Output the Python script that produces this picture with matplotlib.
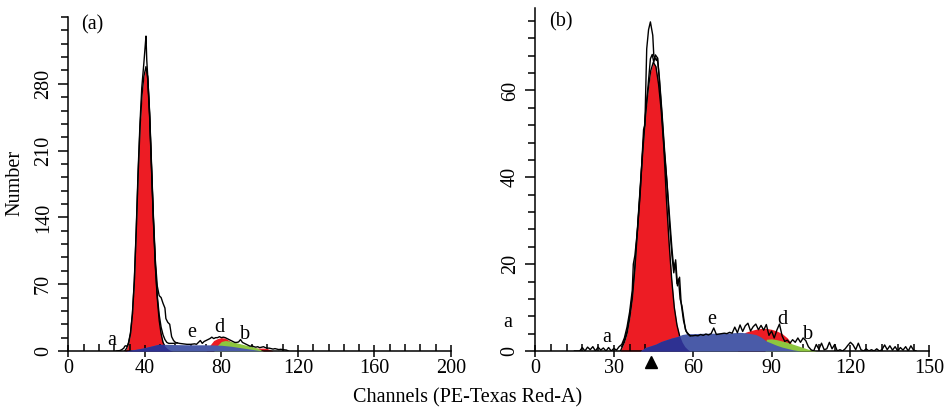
import numpy as np
import matplotlib
matplotlib.use("Agg")
import matplotlib.pyplot as plt
from matplotlib.ticker import MultipleLocator
import matplotlib.transforms as mtransforms

plt.rcParams['font.family'] = ['Liberation Serif', 'DejaVu Serif']
FS = 14.5

RED = '#ED1C24'
BLUE = '#4A5BA8'
NAVY = '#2E3192'
GREEN = '#8DC63F'

# ---------------- Panel (a) data ----------------
a_g1_x = [29.5, 30.5, 31.5, 32.5, 33.5, 34.5, 35.5, 36.5, 37.5, 38.5, 39.5, 40.6, 41.5, 42.5,
          43.5, 44.5, 45.5, 46.5, 47.5, 48.5, 49.5, 50.5, 51.5, 52.5, 53.5, 54.5]
a_g1_y = [0, 3, 8, 18, 38, 72, 125, 185, 235, 268, 288, 298, 285, 245,
          190, 135, 88, 55, 32, 18, 9, 5, 3, 1.5, 0.5, 0]

a_g2_x = [72, 74, 76, 78, 80, 82, 84, 86, 88, 90, 92, 94, 96, 98, 100, 102, 104, 106, 107]
a_g2_y = [0, 6, 11, 13, 14, 13.5, 11, 8, 6, 5, 4.5, 4, 3.5, 3, 3, 3, 2.5, 1, 0]

a_s_x = [30, 33, 36, 40, 44, 47, 50, 55, 60, 65, 70, 75, 80, 85, 90, 95, 100, 102]
a_s_y = [0, 1, 2, 3.5, 5.5, 7, 7, 6.8, 6.6, 6.5, 6.5, 6.4, 6, 5, 3.5, 2, 0.5, 0]

a_gr_x = [76, 78, 80, 82, 84, 86, 88, 90, 92, 94, 96, 98, 100, 101, 102]
a_gr_y = [0, 6, 10, 11, 10.5, 9.5, 8.5, 7.5, 6.5, 5.5, 4.5, 3.5, 2, 0.5, 0]

a_raw_x = [25, 27, 28, 29, 29.5, 30, 30.5, 31, 31.5, 32.5, 33.5, 34.5, 35.5, 36.5, 37.5, 38.4,
           39.5, 40.2, 40.6, 41, 41.5, 42.5, 43.5, 44.5, 45.5, 46.5, 47.5, 48.5, 49.5, 50.5,
           51, 52, 53, 54, 55, 56, 57, 58, 60, 62, 64, 66, 67, 68, 69, 70, 71, 72, 73, 74,
           75, 76, 77, 78, 79, 80, 81, 82, 83, 84, 85, 86, 87, 88, 89, 90, 91, 92, 93, 94,
           95, 96, 97, 98, 99, 100, 101, 102, 103, 104, 105, 106, 107, 108, 109, 110, 111,
           112, 113, 114, 115]
a_raw_y = [0, 0.5, 1.5, 3, 5, 5.5, 5, 6, 9, 19, 39, 74, 128, 190, 240, 276,
           302, 320, 330, 305, 288, 250, 195, 140, 95, 68, 58, 56, 50, 45,
           34, 30, 28, 15, 11, 9, 8.5, 8, 7.5, 7, 7, 7.5, 7, 9, 11, 8, 10, 11, 12, 13,
           14.5, 13, 14, 14, 15, 14, 14.5, 14, 13, 12, 11, 10, 9, 9, 9.5, 12, 9, 8, 7, 6,
           5, 5.5, 4.5, 4, 4.5, 3.5, 4, 4.5, 3.5, 3, 3, 2.5, 2, 2.5, 2, 1.5, 1.8,
           1.5, 1.2, 1, 0]

a_in_x = [41.5, 42.5, 43.5, 44.5, 45.5, 46.5, 47.5, 48.5, 49.5, 50.5, 51.5, 52.5, 53.5, 55, 57]
a_in_y = [288, 248, 192, 137, 90, 58, 38, 25, 17, 12, 9, 8, 8, 8, 8.5]

a_xticks = [0, 40, 80, 120, 160, 200]
a_yticks = [0, 70, 140, 210, 280]
a_labels = [('a', 22.7, 10.6), ('e', 64.5, 19.4), ('d', 79.0, 24.6), ('b', 92.4, 17.6)]

# ---------------- Panel (b) data ----------------
b_g1_x = [32.5, 34, 35, 36, 37, 38, 39, 40, 41, 42, 43, 44, 45, 46, 47, 48, 49, 50, 51, 52,
          53, 54, 55, 56, 57, 58, 59]
b_g1_y = [0, 2, 4, 7.5, 12, 19, 28, 37, 46, 54, 60, 64.5, 66.5, 65.5, 61.5, 55.5, 47, 35, 25, 16.5,
          10, 6, 3.5, 2, 1, 0.4, 0]

b_g2_x = [77, 78, 80, 82, 84, 86, 88, 90, 92, 94, 96, 97, 98, 99]
b_g2_y = [0, 3, 4.3, 4.7, 5.0, 5.2, 5.2, 5.0, 4.6, 4.0, 3.0, 2.2, 1.0, 0]

b_s_x = [40, 42, 44, 46, 48, 50, 52, 54, 56, 58, 60, 65, 70, 75, 78, 80, 84, 86, 88, 90, 92,
         94, 96, 98, 100, 101]
b_s_y = [0, 0.8, 1.2, 1.6, 2.2, 2.6, 3.0, 3.3, 3.8, 4.0, 4.0, 4.1, 4.1, 4.2, 4.3, 4.2, 3.8, 3.2,
         2.3, 1.8, 1.3, 0.9, 0.6, 0.3, 0.1, 0]

b_gr_x = [87.5, 88, 90, 92, 94, 96, 98, 100, 102, 104, 106, 107]
b_gr_y = [0, 2.7, 2.8, 2.6, 2.3, 2.0, 1.6, 1.2, 0.8, 0.4, 0.1, 0]

b_raw_x = [15, 16, 17, 18, 19, 20, 21, 22, 23, 24, 25, 26, 27, 28, 29, 30, 31, 32, 33, 34, 35,
           36, 37, 37.4, 38, 39, 40, 41.3, 41.8, 42.5, 43.2, 43.9, 44.8, 45.2, 46.2, 46.6, 47.3,
           48.3, 49.2, 50.2, 51.2, 52.1, 52.8, 53.4, 54.0, 54.6, 55.2, 55.9, 57.2, 58, 59, 60,
           61, 62, 63, 64, 65, 66, 67, 68, 69, 70, 71, 72, 73, 74, 75, 76, 77, 78, 79, 80, 81,
           82, 83, 84, 85, 86, 87, 88, 89, 90, 91, 92, 93, 94, 95, 96, 97, 98, 99, 100, 101,
           102, 103, 104, 105, 106, 107, 108, 109, 110, 111, 112, 113, 114, 115, 116, 117,
           118, 119, 120, 121, 122, 123, 124, 125, 126, 127, 128, 129, 130, 131, 132, 133,
           134, 135, 136, 137, 138, 139, 140, 141, 142, 143, 144, 145]
b_raw_y = [0, 0, 0, 0.8, 0, 0.9, 0.3, 1.0, 0, 0.9, 0.2, 0.7, 0, 0.8, 0, 0.6, 0.2, 1.0, 1.5, 3, 5.5,
           9, 14, 20, 22, 28, 36, 51, 52, 69.6, 74, 75.8, 72.7, 68, 66.9, 67.5, 63,
           55, 47, 39, 31, 23.5, 19, 20.4, 15.5, 16.6, 12, 10.4, 5, 4, 3.5, 3.5,
           3.6, 3.5, 3.8, 3.6, 3.9, 3.7, 4.0, 5.3, 3.8, 3.9, 4.0, 4.1, 4.0, 4.3, 4.1, 5.5, 4.2,
           6.0, 4.5, 5.8, 6.4, 4.6, 5.6, 6.2, 4.9, 5.9, 4.8, 6.1, 3.6, 4.6, 3.0, 4.8, 6.2, 3.5, 2.2,
           2.5, 1.8, 2.6, 2.0, 3.0, 2.0, 3.0, 2.4, 1.0, 0.3, 0, 1.5, 0.4, 1.8, 0.3, 0.5, 2.0, 0.5,
           1.5, 0, 0.3, 0, 0.5, 1.3, 2.0, 1.4, 0.3, 1.8, 0.3, 0, 0.5, 0, 0.3, 0, 0.5, 0, 0.3,
           1.4, 0.3, 1.2, 0.2, 1.0, 0, 0.8, 0.2, 1.0, 0, 1.2, 0.2, 0]

b_in_x = [33, 34, 35, 36, 37, 38, 39, 40, 41, 42, 43, 43.9, 44.6, 45.2, 45.8, 46.6, 47.3, 48.3,
          49.2, 50.2, 51.2, 52.1, 52.8, 53.5, 54.2, 55, 55.6, 56.5, 57.5, 59]
b_in_y = [1, 2.5, 4.5, 8, 12.5, 19.5, 28.5, 37.5, 46.5, 54.5, 61, 67.3, 68.3, 66.5, 68.2, 67.5, 62.5,
          54.2, 46, 38.8, 29, 22, 18, 21, 15, 17, 11, 7, 4.5, 3.5]

b_xticks = [0, 30, 60, 90, 120, 150]
b_yticks = [0, 20, 40, 60]
b_labels = [('a', -10.3, 6.5), ('a', 27.3, 3.1), ('e', 67.4, 7.3), ('d', 94.0, 7.3), ('b', 103.9, 3.8)]
b_marker_x = 44.2


def style_axes(ax, xmax, ymax, xmaj, xmin, ymaj, ymin, xticks, yticks):
    ax.set_xlim(0, xmax)
    ax.set_ylim(0, ymax)
    for s in ['top', 'right']:
        ax.spines[s].set_visible(False)
    for s in ['left', 'bottom']:
        ax.spines[s].set_linewidth(1.1)
    ax.set_xticks(xticks)
    ax.set_yticks(yticks)
    ax.xaxis.set_minor_locator(MultipleLocator(xmin))
    ax.yaxis.set_minor_locator(MultipleLocator(ymin))
    ax.tick_params(axis='x', which='major', direction='inout', length=8, width=1.1,
                   labelsize=FS, pad=2)
    ax.tick_params(axis='x', which='minor', direction='in', length=5, width=1.1)
    ax.tick_params(axis='y', which='major', direction='out', length=7, width=1.1,
                   labelsize=FS, pad=4)
    ax.tick_params(axis='y', which='minor', direction='out', length=5, width=1.1)
    for lab in ax.get_yticklabels():
        lab.set_rotation(90)
        lab.set_va('center')


def draw_panel(ax, g1x, g1y, g2x, g2y, sx, sy, grx, gry, rawx, rawy, inx, iny):
    ax.fill_between(g1x, 0, g1y, color=RED, lw=0, zorder=1)
    ax.plot(g1x, g1y, color='black', lw=1.0, zorder=1.5)
    ax.fill_between(g2x, 0, g2y, color=RED, lw=0, zorder=2)
    ax.fill_between(grx, 0, gry, color=GREEN, lw=0, zorder=3)
    ax.fill_between(sx, 0, sy, color=BLUE, lw=0, zorder=4)
    xf = np.linspace(min(sx), max(sx), 600)
    navy = np.minimum(np.interp(xf, sx, sy), np.interp(xf, g1x, g1y, left=0, right=0))
    ax.fill_between(xf, 0, navy, color=NAVY, lw=0, zorder=5)
    ax.plot(inx, iny, color='black', lw=1.0, zorder=6)
    ax.plot(rawx, rawy, color='black', lw=1.0, zorder=7)


fig = plt.figure(figsize=(9.49, 4.16), dpi=100)
ax_a = fig.add_axes([68.3 / 949, 65 / 416, (451 - 68.3) / 949, 334 / 416])
ax_b = fig.add_axes([535 / 949, 65 / 416, (929.3 - 535) / 949, 343 / 416])

draw_panel(ax_a, a_g1_x, a_g1_y, a_g2_x, a_g2_y, a_s_x, a_s_y, a_gr_x, a_gr_y,
           a_raw_x, a_raw_y, a_in_x, a_in_y)
style_axes(ax_a, 200, 350, 40, 8, 70, 14, a_xticks, a_yticks)

draw_panel(ax_b, b_g1_x, b_g1_y, b_g2_x, b_g2_y, b_s_x, b_s_y, b_gr_x, b_gr_y,
           b_raw_x, b_raw_y, b_in_x, b_in_y)
style_axes(ax_b, 150, 79, 30, 6, 20, 4, b_xticks, b_yticks)

for t, x, y in a_labels:
    ax_a.text(x, y, t, fontsize=FS, ha='center', va='center', zorder=8)
for t, x, y in b_labels:
    ax_b.text(x, y, t, fontsize=FS, ha='center', va='center', zorder=8, clip_on=False)

trans = mtransforms.blended_transform_factory(ax_b.transData, ax_b.transAxes)
ax_b.plot([b_marker_x], [-0.031], marker='^', color='black', ms=9, transform=trans,
          clip_on=False, zorder=9)

fig.text(92 / 949, 1 - 25 / 416, '(a)', fontsize=FS, ha='center', va='center')
fig.text(561 / 949, 1 - 22 / 416, '(b)', fontsize=FS, ha='center', va='center')
fig.text(468 / 949, 1 - 398 / 416, 'Channels (PE-Texas Red-A)', fontsize=FS,
         ha='center', va='center')
fig.text(15 / 949, 1 - 183 / 416, 'Number', fontsize=FS, ha='center', va='center',
         rotation=90)

fig.savefig('out.png', dpi=100)
